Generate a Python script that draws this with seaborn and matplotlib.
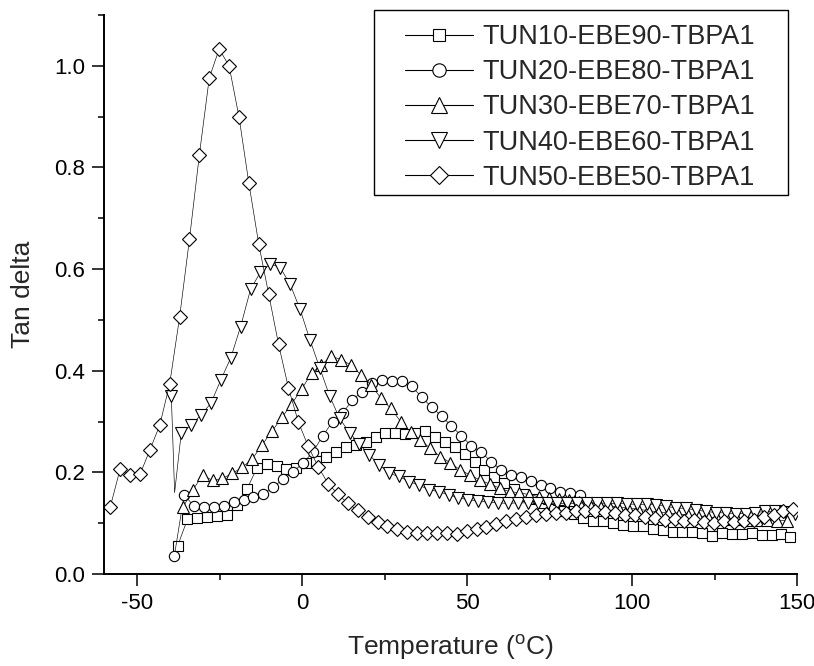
import numpy as np
import pandas as pd
import matplotlib
matplotlib.use("Agg")
import matplotlib.pyplot as plt
from matplotlib.patches import Rectangle
import seaborn as sns

# ---------------- data ----------------
labels = ["TUN10-EBE90-TBPA1", "TUN20-EBE80-TBPA1", "TUN30-EBE70-TBPA1",
          "TUN40-EBE60-TBPA1", "TUN50-EBE50-TBPA1"]

t10 = [-37.7, -34.7, -31.7, -28.7, -25.7, -22.7, -19.7, -16.7, -13.7, -10.7,
       -7.7, -4.7, -1.7, 1.3, 4.3, 7.3, 10.3, 13.3, 16.3, 19.3,
       22.3, 25.3, 28.3, 31.3, 34.3, 37.3, 40.3, 43.3, 46.3, 49.3,
       52.3, 55.3, 58.3, 61.3, 64.3, 67.3, 70.3, 73.3, 76.3, 79.3,
       82.3, 85.3, 88.3, 91.3, 94.3, 97.3, 100.3, 103.3, 106.3, 109.3,
       112.3, 115.3, 118.3, 121.3, 124.3, 127.3, 130.3, 133.3, 136.3, 139.3,
       142.3, 145.3, 148.0]
v10 = [0.055, 0.108, 0.111, 0.112, 0.114, 0.116, 0.136, 0.167, 0.208, 0.217,
       0.213, 0.206, 0.208, 0.218, 0.223, 0.231, 0.240, 0.249, 0.254, 0.260,
       0.269, 0.277, 0.277, 0.275, 0.278, 0.281, 0.270, 0.260, 0.249, 0.237,
       0.221, 0.205, 0.191, 0.179, 0.168, 0.158, 0.148, 0.140, 0.132, 0.124,
       0.118, 0.111, 0.105, 0.104, 0.100, 0.096, 0.095, 0.094, 0.088, 0.087,
       0.083, 0.083, 0.083, 0.081, 0.074, 0.080, 0.078, 0.078, 0.080, 0.076,
       0.076, 0.079, 0.073]

t20 = [-38.7, -35.7, -32.7, -29.7, -26.7, -23.7, -20.7, -17.7, -14.7, -11.7,
       -8.7, -5.7, -2.7, 0.3, 3.3, 6.3, 9.3, 12.3, 15.3, 18.3,
       21.3, 24.3, 27.3, 30.3, 33.3, 36.3, 39.3, 42.3, 45.3, 48.3,
       51.3, 54.3, 57.3, 60.3, 63.3, 66.3, 69.3, 72.3, 75.3, 78.3,
       81.3, 84.3]
v20 = [0.035, 0.156, 0.133, 0.131, 0.131, 0.133, 0.142, 0.146, 0.151, 0.157,
       0.172, 0.186, 0.201, 0.218, 0.240, 0.272, 0.300, 0.316, 0.343, 0.359,
       0.375, 0.382, 0.380, 0.379, 0.369, 0.348, 0.328, 0.311, 0.291, 0.272,
       0.252, 0.240, 0.221, 0.205, 0.195, 0.190, 0.183, 0.175, 0.170, 0.162,
       0.159, 0.156]

t30 = [-36.1, -33.1, -30.1, -27.1, -24.1, -21.1, -18.1, -15.1, -12.1, -9.1,
       -6.1, -3.1, -0.1, 2.9, 5.9, 8.9, 11.9, 14.9, 17.9, 20.9,
       23.9, 26.9, 29.9, 32.9, 35.9, 38.9, 41.9, 44.9, 47.9, 50.9,
       53.9, 56.9, 59.9, 62.9, 65.9, 68.9, 71.9, 74.9, 77.9, 80.9,
       83.9, 86.9, 89.9, 92.9, 95.9, 98.9, 101.9, 104.9, 107.9, 110.9,
       113.9, 116.9, 119.9, 122.9, 125.9, 128.9, 131.9, 134.9, 137.9, 140.9,
       143.9, 146.9]
v30 = [0.131, 0.165, 0.195, 0.184, 0.188, 0.198, 0.210, 0.226, 0.254, 0.281,
       0.308, 0.335, 0.364, 0.395, 0.412, 0.428, 0.422, 0.411, 0.392, 0.372,
       0.346, 0.326, 0.300, 0.280, 0.264, 0.247, 0.231, 0.219, 0.205, 0.195,
       0.185, 0.177, 0.169, 0.162, 0.160, 0.156, 0.152, 0.150, 0.147, 0.145,
       0.142, 0.140, 0.137, 0.134, 0.132, 0.130, 0.127, 0.125, 0.122, 0.120,
       0.118, 0.116, 0.114, 0.112, 0.110, 0.109, 0.108, 0.107, 0.106, 0.106,
       0.105, 0.105]

t40 = [-39.6, -38.6, -36.6, -33.6, -30.6, -27.6, -24.6, -21.6, -18.6, -15.6,
       -12.6, -9.6, -6.6, -3.6, -0.6, 2.4, 5.4, 8.4, 11.4, 14.4,
       17.4, 20.4, 23.4, 26.4, 29.4, 32.4, 35.4, 38.4, 41.4, 44.4,
       47.4, 50.4, 53.4, 56.4, 59.4, 62.4, 65.4, 68.4, 71.4, 74.4,
       77.4, 80.4, 83.4, 86.4, 89.4, 92.4, 95.4, 98.4, 101.4, 104.4,
       107.4, 110.4, 113.4, 116.4, 119.4, 122.4, 125.4, 128.4, 131.4, 134.4,
       137.4, 140.4, 143.4, 146.4, 149.4]
v40 = [0.350, 0.160, 0.277, 0.293, 0.313, 0.336, 0.382, 0.425, 0.487, 0.560,
       0.594, 0.610, 0.603, 0.570, 0.521, 0.461, 0.405, 0.350, 0.306, 0.278,
       0.256, 0.234, 0.215, 0.198, 0.192, 0.182, 0.175, 0.166, 0.162, 0.156,
       0.150, 0.146, 0.144, 0.141, 0.140, 0.139, 0.140, 0.140, 0.139, 0.139,
       0.139, 0.139, 0.139, 0.140, 0.140, 0.139, 0.139, 0.138, 0.137, 0.137,
       0.136, 0.133, 0.130, 0.129, 0.126, 0.123, 0.121, 0.120, 0.119, 0.119,
       0.121, 0.123, 0.123, 0.122, 0.119]

t50 = [-58.1, -55.1, -52.1, -49.1, -46.1, -43.1, -40.1, -37.1, -34.1, -31.1,
       -28.1, -25.1, -22.1, -19.1, -16.1, -13.1, -10.1, -7.1, -4.1, -1.1,
       1.9, 4.9, 7.9, 10.9, 13.9, 16.9, 19.9, 22.9, 25.9, 28.9,
       31.9, 34.9, 37.9, 40.9, 43.9, 46.9, 49.9, 52.9, 55.9, 58.9,
       61.9, 64.9, 67.9, 70.9, 73.9, 76.9, 79.9, 82.9, 85.9, 88.9,
       91.9, 94.9, 97.9, 100.9, 103.9, 106.9, 109.9, 112.9, 115.9, 118.9,
       121.9, 124.9, 127.9, 130.9, 133.9, 136.9, 139.9, 142.9, 145.9, 148.9]
v50 = [0.132, 0.207, 0.195, 0.196, 0.244, 0.293, 0.374, 0.505, 0.659, 0.825,
       0.976, 1.033, 1.000, 0.900, 0.769, 0.649, 0.551, 0.452, 0.366, 0.299,
       0.251, 0.211, 0.178, 0.157, 0.139, 0.125, 0.113, 0.103, 0.094, 0.088,
       0.083, 0.081, 0.081, 0.081, 0.080, 0.078, 0.085, 0.088, 0.093, 0.099,
       0.104, 0.108, 0.112, 0.116, 0.119, 0.121, 0.120, 0.123, 0.123, 0.124,
       0.122, 0.120, 0.117, 0.116, 0.113, 0.110, 0.106, 0.108, 0.105, 0.106,
       0.102, 0.101, 0.104, 0.103, 0.105, 0.106, 0.113, 0.117, 0.123, 0.128]

temps = [t10, t20, t30, t40, t50]
values = [v10, v20, v30, v40, v50]
markers = ["s", "o", "^", "v", "D"]
msizes = [7.0, 7.4, 8.6, 8.6, 7.4]

xticks = [-50, 0, 50, 100, 150]
yticks = [0.0, 0.2, 0.4, 0.6, 0.8, 1.0]

# ---------------- style ----------------
sns.set_style("white")
plt.rcParams["font.family"] = ["Liberation Sans", "DejaVu Sans"]
plt.rcParams["mathtext.fontset"] = "custom"
plt.rcParams["mathtext.rm"] = "Liberation Sans"

W, H = 814, 666
fig = plt.figure(figsize=(W / 100, H / 100), dpi=100)
ax = fig.add_axes([104 / W, 1 - 574 / H, (797 - 104) / W, (574 - 15) / H])

for t, v, lab, mk, ms in zip(temps, values, labels, markers, msizes):
    df = pd.DataFrame({"Temperature": t, "Tan delta": v})
    every = list(range(len(t)))
    if lab.startswith("TUN40"):
        every.remove(1)  # spike vertex drawn without a symbol, as in the source
    sns.lineplot(data=df, x="Temperature", y="Tan delta", ax=ax, sort=False,
                 color="black", linewidth=0.45, marker=mk, markersize=ms,
                 markerfacecolor="white", markeredgecolor="black",
                 markeredgewidth=0.8, markevery=every, label=lab)

ax.set_xlim(-60, 150)
ax.set_ylim(0, 1.1)
ax.set_xticks(xticks)
ax.set_yticks(yticks)
ax.set_xticklabels([str(x) for x in xticks])
ax.set_yticklabels([f"{y:.1f}" for y in yticks])
ax.xaxis.set_minor_locator(matplotlib.ticker.MultipleLocator(25))
ax.yaxis.set_minor_locator(matplotlib.ticker.MultipleLocator(0.1))
ax.tick_params(which="major", direction="out", length=8.5, width=1.1,
               labelsize=16, pad=5, color="black", labelcolor="black",
               bottom=True, left=True)
ax.tick_params(which="minor", direction="out", length=4.3, width=1.1,
               color="black", bottom=True, left=True)
for s in ["top", "right"]:
    ax.spines[s].set_visible(False)
for s in ["left", "bottom"]:
    ax.spines[s].set_color("black")
    ax.spines[s].set_linewidth(1.4)

ax.set_xlabel(r"Temperature ($\mathregular{^{o}}$C)", fontsize=19, labelpad=14)
ax.set_ylabel("Tan delta", fontsize=19, labelpad=14)

leg = ax.legend(loc="upper left", bbox_to_anchor=(405 / W, 1 - 24 / H),
                bbox_transform=fig.transFigure, frameon=False, fontsize=19.5,
                borderpad=0, handlelength=2.5, handletextpad=0.37,
                labelspacing=0.34, borderaxespad=0)
for h in leg.legend_handles:
    h.set_markersize(h.get_markersize() * 1.3)
    h.set_linewidth(0.8)
fig.add_artist(Rectangle((374 / W, 1 - 195 / H), 414 / W, 185 / H,
                         transform=fig.transFigure, fill=False,
                         edgecolor="black", linewidth=1.0))

fig.savefig("out.png", dpi=100)
